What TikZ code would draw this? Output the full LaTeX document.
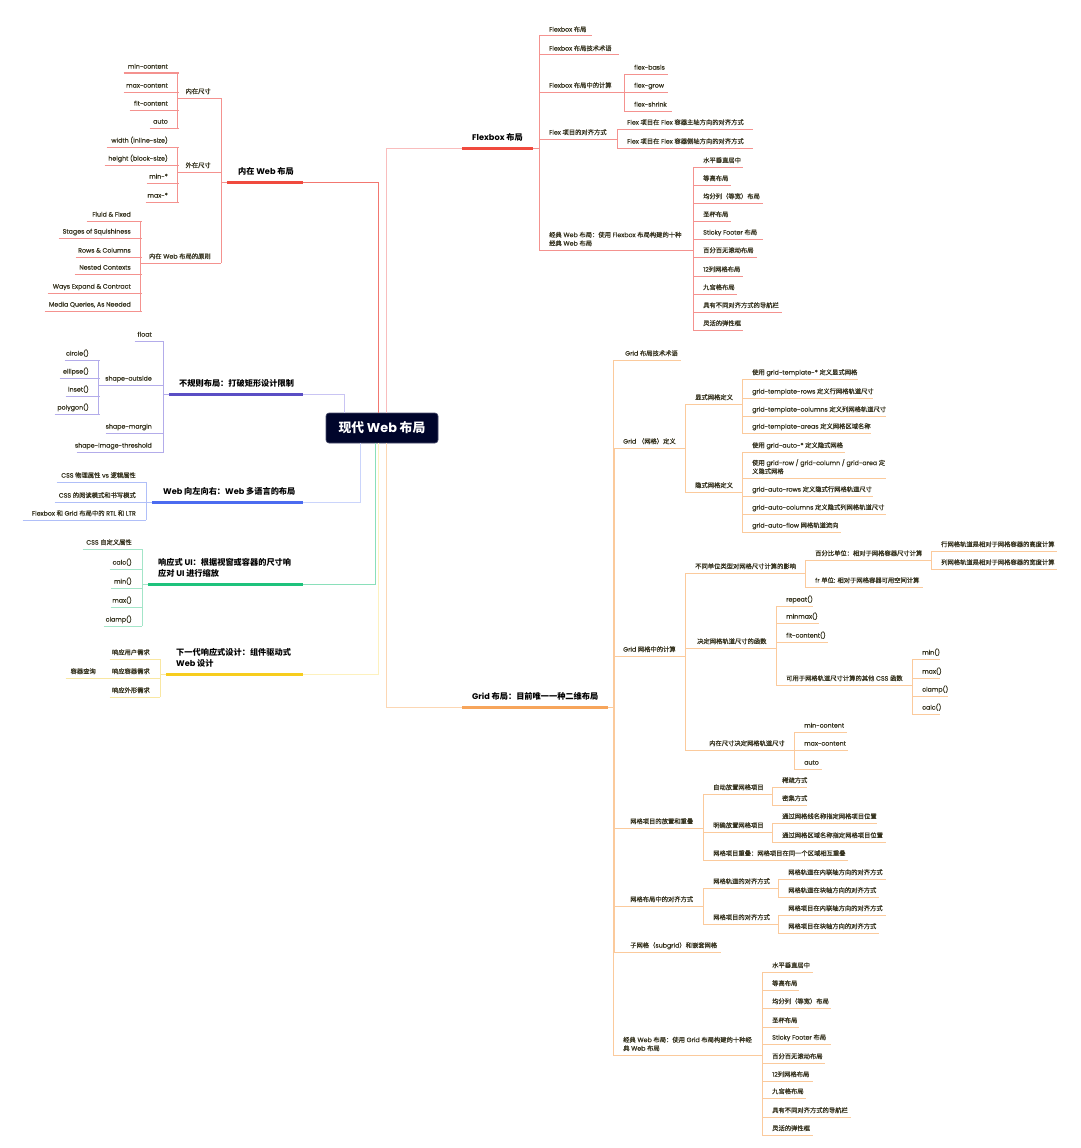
\documentclass[tikz,border=0pt]{standalone}
\usepackage{fontspec}
\setmainfont{Poppins}
\newfontfamily\latR{Poppins}
\newfontfamily\cjkR{Noto Sans CJK SC}
\newfontfamily\latL[FakeBold=0.5]{Poppins}
\newfontfamily\cjkL[FakeBold=0.5]{Noto Sans CJK SC}
\let\latf\latR
\let\cjkf\cjkR
\newcommand\leaffont{\let\latf\latL\let\cjkf\cjkL\latL}
\XeTeXinterchartokenstate=1
\newXeTeXintercharclass\CJKcls
\newcount\cc
\cc="3000 \loop \XeTeXcharclass\cc=\CJKcls \ifnum\cc<"303F \advance\cc by 1 \repeat
\cc="4E00 \loop \XeTeXcharclass\cc=\CJKcls \ifnum\cc<"9FFF \advance\cc by 1 \repeat
\cc="FF00 \loop \XeTeXcharclass\cc=\CJKcls \ifnum\cc<"FFEF \advance\cc by 1 \repeat
\XeTeXinterchartoks 0 \CJKcls = {\cjkf}
\XeTeXinterchartoks 4095 \CJKcls = {\cjkf}
\XeTeXinterchartoks \CJKcls 0 = {\latf}
\XeTeXinterchartoks \CJKcls 4095 = {\latf}

\definecolor{leaftxt}{HTML}{36331F}
\definecolor{rootbg}{HTML}{00052B}
\definecolor{rootbd}{HTML}{4A4E6E}
\definecolor{redM}{HTML}{F04A3E}
\definecolor{redL}{HTML}{F4928F}
\definecolor{redC}{HTML}{F27770}
\definecolor{flxC}{HTML}{F9BDBD}
\definecolor{purM}{HTML}{5A4EC4}
\definecolor{purL}{HTML}{B3ACEA}
\definecolor{purC}{HTML}{C9C4F3}
\definecolor{bluM}{HTML}{4B6BF0}
\definecolor{bluL}{HTML}{B0BFF8}
\definecolor{bluC}{HTML}{CAD4FB}
\definecolor{grnM}{HTML}{1EC27C}
\definecolor{grnL}{HTML}{A3E5C8}
\definecolor{grnC}{HTML}{8ADFBA}
\definecolor{yelM}{HTML}{F7CD1E}
\definecolor{yelL}{HTML}{F9E7A2}
\definecolor{yelC}{HTML}{FDF1BE}
\definecolor{orgM}{HTML}{F7A55B}
\definecolor{orgL}{HTML}{FBCA9C}
\definecolor{orgC}{HTML}{FCD7B4}
\colorlet{ulc}{redL}

\tikzset{
  lpad/.store in=\lpadv, lpad=10,
  leaf/.style={inner xsep=0pt, inner ysep=2.2pt, text depth=2pt,
    font=\leaffont\fontsize{6.3}{8.5}\selectfont, text=leaftxt,
    append after command={(\tikzlastnode.south west) edge[draw=ulc, line width=1pt] (\tikzlastnode.south east)}},
  mainnode/.style={inner xsep=0pt, inner ysep=5pt, text depth=2.5pt, anchor=south west,
    font=\bfseries\fontsize{8.2}{11}\selectfont, text=black,
    append after command={(\tikzlastnode.south west) edge[draw=#1, line width=3pt] (\tikzlastnode.south east)}},
  conn/.style={draw=ulc, line width=1pt},
  rootnode/.style={fill=rootbg, draw=rootbd, line width=0.6pt, rounded corners=3pt,
    minimum width=112pt, minimum height=30pt, text=white, inner sep=0pt,
    font=\bfseries\fontsize{12.8}{14}\selectfont},
}
\newcommand\NR[5][]{\node[leaf,anchor=south west,#1] (#2) at (#3) {\makebox[#4pt][l]{\hspace*{\lpadv pt}#5}};}
\newcommand\NL[5][]{\node[leaf,anchor=south east,#1] (#2) at (#3) {\makebox[#4pt][r]{#5\hspace*{\lpadv pt}}};}
\newcommand\twol[2]{\begin{tabular}[b]{@{}l@{}}#1\\#2\end{tabular}}
\newcommand\cR[2]{\draw[conn] (#1.south east) |- (#2.south west);}
\newcommand\cL[2]{\draw[conn] (#1.south west) |- (#2.south east);}
\newcommand\mR[2]{\draw[conn] (#1.south east) -- ++(6,0) |- (#2.south west);}
\newcommand\mL[2]{\draw[conn] (#1.south west) -- ++(-6,0) |- (#2.south east);}

\begin{document}
\begin{tikzpicture}[x=1pt,y=-1pt]
\fill[white] (0,0) rectangle (1080,1148);
\useasboundingbox (0,0) rectangle (1080,1148);

% ---------------- 内在 Web 布局 ----------------
\colorlet{ulc}{redL}
\node[mainnode=redM] (inner) at (227,182) {\makebox[76pt][l]{\hspace*{11pt}内在 Web 布局}};
\NL{in1}{221,98}{43}{内在尺寸}
\NL{in11}{178,73}{54}{min-content}
\NL{in12}{178,92}{54}{max-content}
\NL{in13}{178,110}{48}{fit-content}
\NL{in14}{178,128}{28}{auto}
\NL{in2}{221,172}{43}{外在尺寸}
\NL{in21}{178,147}{71}{width (inline-size)}
\NL{in22}{178,165}{73}{height (block-size)}
\NL{in23}{178,183}{31}{min-*}
\NL{in24}{178,202}{32}{max-*}
\NL{in3}{221,263}{80}{内在 Web 布局的原则}
\NL{in31}{141,221}{54}{Fluid \& Fixed}
\NL{in32}{141,238}{82}{Stages of Squishiness}
\NL{in33}{141,257}{65}{Rows \& Columns}
\NL{in34}{141,274}{66}{Nested Contexts}
\NL{in35}{141,293}{93}{Ways Expand \& Contract}
\NL{in36}{141,311}{96}{Media Queries, As Needed}
\mL{inner}{in1}\mL{inner}{in2}\mL{inner}{in3}
\cL{in1}{in11}\cL{in1}{in12}\cL{in1}{in13}\cL{in1}{in14}
\cL{in2}{in21}\cL{in2}{in22}\cL{in2}{in23}\cL{in2}{in24}
\cL{in3}{in31}\cL{in3}{in32}\cL{in3}{in33}\cL{in3}{in34}\cL{in3}{in35}\cL{in3}{in36}

% ---------------- 不规则布局 ----------------
\colorlet{ulc}{purL}
\node[mainnode=purM] (irr) at (169,394) {\makebox[134pt][l]{\hspace*{10pt}不规则布局：打破矩形设计限制}};
\NL{p1}{162,341}{27}{float}
\NL{p2}{162,385}{63}{shape-outside}
\NL{p21}{99,360}{34}{circle()}
\NL{p22}{99,378}{39}{ellipse()}
\NL{p23}{99,396}{33}{inset()}
\NL{p24}{99,414}{44}{polygon()}
\NL{p3}{162,433}{56}{shape-margin}
\NL{p4}{162,452}{85}{shape-image-threshold}
\mL{irr}{p1}\mL{irr}{p2}\mL{irr}{p3}\mL{irr}{p4}
\cL{p2}{p21}\cL{p2}{p22}\cL{p2}{p23}\cL{p2}{p24}

% ---------------- Web 向左向右 ----------------
\colorlet{ulc}{bluL}
\node[mainnode=bluM] (rtl) at (152,502) {\makebox[151pt][l]{\hspace*{11pt}Web 向左向右：Web 多语言的布局}};
\NL{b1}{146,482}{89}{CSS 物理属性 vs 逻辑属性}
\NL{b2}{146,502}{91}{CSS 的阅读模式和书写模式}
\NL{b3}{146,520}{123}{Flexbox 和 Grid 布局中的 RTL 和 LTR}
\mL{rtl}{b1}\mL{rtl}{b2}\mL{rtl}{b3}

% ---------------- 响应式 UI ----------------
\colorlet{ulc}{grnL}
\node[mainnode=grnM] (resp) at (148,584) {\makebox[155pt][l]{\hspace*{10pt}\twol{响应式 UI：根据视窗或容器的尺寸响}{应对 UI 进行缩放}}};
\NL{r1}{142,549}{59}{CSS 自定义属性}
\NL{r2}{142,569}{32}{calc()}
\NL{r3}{142,588}{31}{min()}
\NL{r4}{142,607}{31}{max()}
\NL{r5}{142,626}{38}{clamp()}
\mL{resp}{r1}\mL{resp}{r2}\mL{resp}{r3}\mL{resp}{r4}\mL{resp}{r5}

% ---------------- 下一代响应式设计 ----------------
\colorlet{ulc}{yelL}
\node[mainnode=yelM] (nextg) at (166,674) {\makebox[137pt][l]{\hspace*{10pt}\twol{下一代响应式设计：组件驱动式}{Web 设计}}};
\NL{y1}{160,659}{50}{响应用户需求}
\NL{y2}{160,678}{50}{响应容器需求}
\NL[lpad=14]{y21}{110,678}{44}{容器查询}
\NL{y3}{160,697}{50}{响应外形需求}
\mL{nextg}{y1}\mL{nextg}{y2}\mL{nextg}{y3}
\cL{y2}{y21}

% ---------------- Flexbox 布局 ----------------
\colorlet{ulc}{redL}
\node[mainnode=redM] (flex) at (462,148) {\makebox[71pt][l]{\hspace*{10pt}Flexbox 布局}};
\NR{f1}{539,36}{53}{Flexbox 布局}
\NR{f2}{539,55}{80}{Flexbox 布局技术术语}
\NR{f3}{539,92}{85}{Flexbox 布局中的计算}
\NR{f31}{624,74}{44}{flex-basis}
\NR{f32}{624,92}{44}{flex-grow}
\NR{f33}{624,111}{48}{flex-shrink}
\NR{f4}{539,139}{78}{Flex 项目的对齐方式}
\NR{f41}{617,129}{136}{Flex 项目在 Flex 容器主轴方向的对齐方式}
\NR{f42}{617,148}{136}{Flex 项目在 Flex 容器侧轴方向的对齐方式}
\NR{f5}{539,250}{154}{\twol{经典 Web 布局：使用 Flexbox 布局构建的十种}{经典 Web 布局}}
\NR{f51}{693,167}{50}{水平垂直居中}
\NR{f52}{693,185}{38}{等高布局}
\NR{f53}{693,203}{70}{均分列（等宽）布局}
\NR{f54}{693,221}{38}{圣杯布局}
\NR{f55}{693,239}{70}{Sticky Footer 布局}
\NR{f56}{693,257}{64}{百分百无滚动布局}
\NR{f57}{693,276}{50}{12列网格布局}
\NR{f58}{693,294}{44}{九宫格布局}
\NR{f59}{693,312}{89}{具有不同对齐方式的导航栏}
\NR{f510}{693,330}{50}{灵活的弹性框}
\mR{flex}{f1}\mR{flex}{f2}\mR{flex}{f3}\mR{flex}{f4}\mR{flex}{f5}
\cR{f3}{f31}\cR{f3}{f32}\cR{f3}{f33}
\cR{f4}{f41}\cR{f4}{f42}
\cR{f5}{f51}\cR{f5}{f52}\cR{f5}{f53}\cR{f5}{f54}\cR{f5}{f55}
\cR{f5}{f56}\cR{f5}{f57}\cR{f5}{f58}\cR{f5}{f59}\cR{f5}{f510}

% ---------------- Grid 布局 ----------------
\colorlet{ulc}{orgL}
\node[mainnode=orgM] (grid) at (462,707) {\makebox[146pt][l]{\hspace*{10pt}Grid 布局：目前唯一一种二维布局}};
\NR[lpad=12]{g1}{613,360}{68}{Grid 布局技术术语}
\NR{g2}{613,448}{72}{Grid （网格）定义}
\NR{g21}{685,404}{57}{显式网格定义}
\NR{g211}{742,379}{116}{使用 grid-template-* 定义显式网格}
\NR{g212}{742,398}{131}{grid-template-rows 定义行网格轨道尺寸}
\NR{g213}{742,416}{144}{grid-template-columns 定义列网格轨道尺寸}
\NR{g214}{742,433}{129}{grid-template-areas 定义网格区域名称}
\NR{g22}{685,492}{57}{隐式网格定义}
\NR{g221}{742,452}{103}{使用 grid-auto-* 定义隐式网格}
\NR{g222}{742,478}{144}{\twol{使用 grid-row / grid-column / grid-area 定}{义隐式网格}}
\NR{g223}{742,496}{131}{grid-auto-rows 定义隐式行网格轨道尺寸}
\NR{g224}{742,514}{144}{grid-auto-columns 定义隐式列网格轨道尺寸}
\NR{g225}{742,532}{99}{grid-auto-flow 网格轨道流向}
\NR{g3}{613,656}{72}{Grid 网格中的计算}
\NR{g31}{685,573}{120}{不同单位类型对网格尺寸计算的影响}
\NR{g311}{805,560}{126}{百分比单位：相对于网格容器尺寸计算}
\NR{g3111}{931,551}{126}{行网格轨道是相对于网格容器的高度计算}
\NR{g3112}{931,569}{126}{列网格轨道是相对于网格容器的宽度计算}
\NR{g312}{805,587}{118}{fr 单位: 相对于网格容器可用空间计算}
\NR[lpad=12]{g32}{685,648}{91}{决定网格轨道尺寸的函数}
\NR{g321}{776,606}{37}{repeat()}
\NR{g322}{776,623}{43}{minmax()}
\NR{g323}{776,642}{52}{fit-content()}
\NR{g324}{776,685}{136}{可用于网格轨道尺寸计算的其他 CSS 函数}
\NR{g3241}{912,659}{28}{min()}
\NR{g3242}{912,678}{28}{max()}
\NR{g3243}{912,696}{36}{clamp()}
\NR{g3244}{912,714}{28}{calc()}
\NR[lpad=24]{g33}{685,750}{109}{内在尺寸决定网格轨道尺寸}
\NR{g331}{794,732}{53}{min-content}
\NR{g332}{794,750}{54}{max-content}
\NR{g333}{794,769}{28}{auto}
\NR[lpad=17]{g4}{613,828}{90}{网格项目的放置和重叠}
\NR{g41}{703,794}{69}{自动放置网格项目}
\NR{g411}{772,787}{35}{稀疏方式}
\NR{g412}{772,805}{35}{密集方式}
\NR{g42}{703,832}{69}{明确放置网格项目}
\NR{g421}{772,823}{105}{通过网格线名称指定网格项目位置}
\NR{g422}{772,842}{114}{通过网格区域名称指定网格项目位置}
\NR{g43}{703,860}{145}{网格项目重叠：网格项目在同一个区域相互重叠}
\NR[lpad=17]{g5}{613,906}{90}{网格布局中的对齐方式}
\NR{g51}{703,888}{75}{网格轨道的对齐方式}
\NR{g511}{778,879}{108}{网格轨道在内联轴方向的对齐方式}
\NR{g512}{778,897}{101}{网格轨道在块轴方向的对齐方式}
\NR{g52}{703,924}{75}{网格项目的对齐方式}
\NR{g521}{778,915}{108}{网格项目在内联轴方向的对齐方式}
\NR{g522}{778,933}{101}{网格项目在块轴方向的对齐方式}
\NR[lpad=17]{g6}{613,952}{108}{子网格（subgrid）和嵌套网格}
\NR{g7}{613,1055}{149}{\twol{经典 Web 布局：使用 Grid 布局构建的十种经}{典 Web 布局}}
\NR{g71}{762,972}{51}{水平垂直居中}
\NR{g72}{762,990}{37}{等高布局}
\NR{g73}{762,1008}{69}{均分列（等宽）布局}
\NR{g74}{762,1027}{37}{圣杯布局}
\NR{g75}{762,1044}{69}{Sticky Footer 布局}
\NR{g76}{762,1063}{63}{百分百无滚动布局}
\NR{g77}{762,1081}{51}{12列网格布局}
\NR{g78}{762,1098}{44}{九宫格布局}
\NR{g79}{762,1117}{89}{具有不同对齐方式的导航栏}
\NR{g710}{762,1135}{51}{灵活的弹性框}
\draw[conn] (grid.south east) -- ++(5,0) |- (g1.south west);
\draw[conn] (grid.south east) -- ++(5,0) |- (g7.south west);
\mR{grid}{g2}\mR{grid}{g3}\mR{grid}{g4}\mR{grid}{g5}\mR{grid}{g6}
\cR{g2}{g21}\cR{g2}{g22}
\cR{g21}{g211}\cR{g21}{g212}\cR{g21}{g213}\cR{g21}{g214}
\cR{g22}{g221}\cR{g22}{g222}\cR{g22}{g223}\cR{g22}{g224}\cR{g22}{g225}
\cR{g3}{g31}\cR{g3}{g32}\cR{g3}{g33}
\cR{g31}{g311}\cR{g31}{g312}
\cR{g311}{g3111}\cR{g311}{g3112}
\cR{g32}{g321}\cR{g32}{g322}\cR{g32}{g323}\cR{g32}{g324}
\cR{g324}{g3241}\cR{g324}{g3242}\cR{g324}{g3243}\cR{g324}{g3244}
\cR{g33}{g331}\cR{g33}{g332}\cR{g33}{g333}
\cR{g4}{g41}\cR{g4}{g42}\cR{g4}{g43}
\cR{g41}{g411}\cR{g41}{g412}
\cR{g42}{g421}\cR{g42}{g422}
\cR{g5}{g51}\cR{g5}{g52}
\cR{g51}{g511}\cR{g51}{g512}
\cR{g52}{g521}\cR{g52}{g522}
\cR{g7}{g71}\cR{g7}{g72}\cR{g7}{g73}\cR{g7}{g74}\cR{g7}{g75}
\cR{g7}{g76}\cR{g7}{g77}\cR{g7}{g78}\cR{g7}{g79}\cR{g7}{g710}

% ---------------- root ----------------
\node[rootnode] (root) at (382,428) {现代 Web 布局};
\draw[line width=1pt, draw=redC] ([xshift=-4pt]root.north) |- (inner.south east);
\draw[line width=1pt, draw=flxC] ([xshift=4pt]root.north) |- (flex.south west);
\draw[line width=1pt, draw=purC] ([xshift=-38pt]root.north) |- (irr.south east);
\draw[line width=1pt, draw=bluC] ([xshift=-22pt]root.south) |- (rtl.south east);
\draw[line width=1pt, draw=grnC] ([xshift=-7pt]root.south) |- (resp.south east);
\draw[line width=1pt, draw=yelC] ([xshift=-4pt]root.south) |- (nextg.south east);
\draw[line width=1pt, draw=orgC] ([xshift=4pt]root.south) |- (grid.south west);
\end{tikzpicture}
\end{document}
